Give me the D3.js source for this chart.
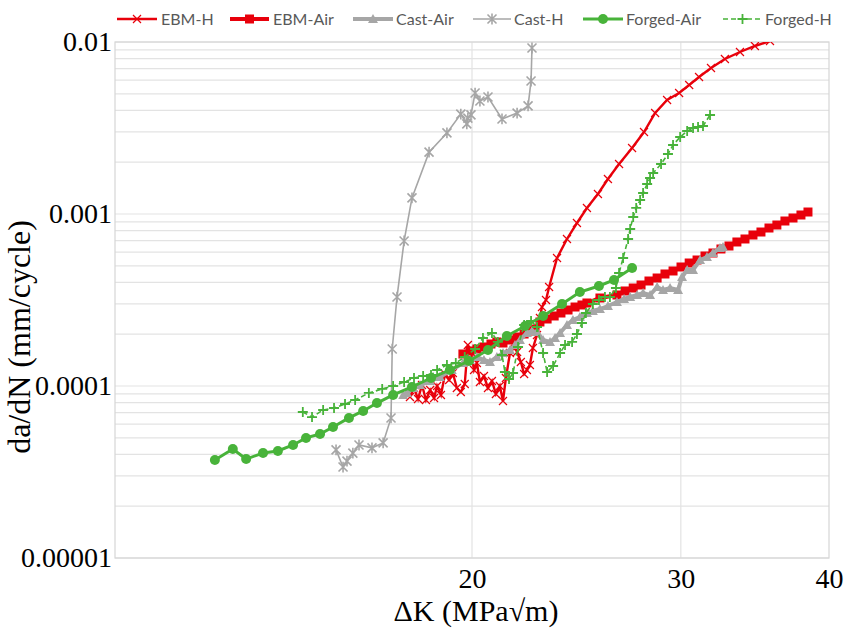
<!DOCTYPE html>
<html>
<head>
<meta charset="utf-8">
<script src="https://cdn.jsdelivr.net/npm/d3@7"></script>
<style>
  body { margin: 0; background: #fff; }
  svg { display: block; }
</style>
</head>
<body>
<div id="chart"></div>
<script>
// series data: [deltaK (MPa√m), da/dN (mm/cycle)]
const ebmH = [
  [17.73,8.63e-5],[17.87,9.74e-5],[18.01,8.40e-5],[18.15,1.013e-4],[18.29,8.29e-5],[18.44,9.48e-5],
  [18.58,8.52e-5],[18.69,1.0e-4],[18.83,8.87e-5],[18.98,1.174e-4],[19.13,1.084e-4],[19.27,1.19e-4],
  [19.42,9.74e-5],[19.57,9.23e-5],[19.72,1.027e-4],[19.84,1.731e-4],[19.96,1.576e-4],[20.08,1.239e-4],
  [20.19,1.361e-4],[20.31,1.055e-4],[20.47,1.143e-4],[20.63,9.74e-5],[20.79,1.069e-4],[20.95,8.99e-5],
  [21.11,1.0e-4],[21.24,8.18e-5],[21.36,1.113e-4],[21.53,1.555e-4],[21.70,1.778e-4],[21.83,1.576e-4],
  [21.99,1.379e-4],[22.13,1.174e-4],[22.25,1.239e-4],[22.38,1.325e-4],[22.51,1.663e-4],[22.69,1.979e-4],
  [22.82,2.485e-4],[22.91,2.879e-4],[23.09,3.162e-4],[23.23,3.763e-4],[23.59,5.549e-4],[24.05,7.157e-4],
  [24.52,8.866e-4],[25.00,1.084e-3],[25.54,1.307e-3],[26.04,1.597e-3],[26.61,1.953e-3],[27.29,2.419e-3],
  [27.93,2.997e-3],[28.54,3.866e-3],[29.21,4.601e-3],[29.90,5.052e-3],[30.49,5.623e-3],[31.08,6.26e-3],
  [31.81,7.063e-3],[32.68,7.964e-3],[33.65,8.747e-3],[34.64,9.479e-3],[35.67,1.013e-2]
];
const ebmAir = [
  [19.65,1.535e-4],[19.92,1.597e-4],[20.19,1.641e-4],[20.47,1.686e-4],[20.75,1.755e-4],[20.99,1.803e-4],
  [21.24,1.778e-4],[21.53,1.851e-4],[21.83,1.927e-4],[22.13,2.006e-4],[22.38,2.088e-4],[22.60,2.145e-4],
  [22.82,2.356e-4],[23.14,2.452e-4],[23.46,2.553e-4],[23.77,2.657e-4],[24.10,2.766e-4],[24.43,2.879e-4],
  [24.76,2.958e-4],[25.00,3.038e-4],[25.64,3.248e-4],[26.50,3.381e-4],[26.92,3.568e-4],[27.35,3.713e-4],
  [27.77,3.866e-4],[28.20,4.078e-4],[28.65,4.245e-4],[29.09,4.479e-4],[29.55,4.663e-4],[30.01,4.919e-4],
  [30.49,5.189e-4],[30.96,5.402e-4],[31.44,5.70e-4],[31.93,5.933e-4],[32.43,6.26e-4],[32.94,6.516e-4],
  [33.45,6.875e-4],[33.98,7.157e-4],[34.51,7.548e-4],[35.05,7.858e-4],[35.60,8.29e-4],[36.15,8.63e-4],
  [36.72,9.105e-4],[37.30,9.479e-4],[37.88,9.867e-4],[38.40,1.027e-3]
];
const castAir = [
  [17.50,8.87e-5],[17.63,9.11e-5],[17.84,9.74e-5],[18.08,1.013e-4],[18.44,1.069e-4],[18.79,1.128e-4],
  [19.23,1.239e-4],[19.65,1.361e-4],[19.92,1.416e-4],[20.19,1.474e-4],[20.47,1.416e-4],[20.71,1.379e-4],
  [20.99,1.474e-4],[21.24,1.555e-4],[21.53,1.619e-4],[21.74,1.731e-4],[21.95,1.851e-4],[22.25,2.033e-4],
  [22.47,2.088e-4],[22.69,2.061e-4],[22.96,1.851e-4],[23.27,1.803e-4],[23.50,1.901e-4],[23.73,2.033e-4],
  [24.05,2.263e-4],[24.33,2.419e-4],[24.66,2.518e-4],[25.00,2.657e-4],[25.29,2.729e-4],[25.64,2.803e-4],
  [26.04,2.918e-4],[26.50,3.078e-4],[26.87,3.205e-4],[27.19,3.292e-4],[27.56,3.381e-4],[27.88,3.473e-4],
  [28.26,3.381e-4],[28.65,3.763e-4],[28.98,3.615e-4],[29.38,3.713e-4],[29.84,3.615e-4],[30.07,4.302e-4],
  [30.37,4.726e-4],[30.72,4.726e-4],[31.14,5.402e-4],[31.56,5.623e-4],[31.93,5.933e-4],[32.37,6.344e-4],
  [32.56,6.43e-4]
];
const castH = [
  [15.36,4.25e-5],[15.57,3.38e-5],[15.69,3.66e-5],[15.87,4.07e-5],[16.06,4.54e-5],[16.47,4.37e-5],
  [16.83,4.67e-5],[17.09,6.52e-5],[17.13,1.64e-4],[17.29,3.29e-4],[17.53,6.97e-4],[17.80,1.24e-3],
  [18.40,2.29e-3],[19.05,2.96e-3],[19.57,3.81e-3],[19.80,3.34e-3],[19.84,3.61e-3],[19.96,3.77e-3],
  [20.12,5.05e-3],[20.31,4.54e-3],[20.63,4.79e-3],[21.20,3.57e-3],[21.83,3.86e-3],[22.30,4.25e-3],
  [22.43,5.93e-3],[22.47,9.23e-3]
];
const forgedAir = [
  [12.14,3.71e-5],[12.57,4.30e-5],[12.90,3.76e-5],[13.33,4.08e-5],[13.72,4.19e-5],[14.13,4.54e-5],
  [14.49,4.99e-5],[14.89,5.26e-5],[15.27,5.78e-5],[15.75,6.52e-5],[16.19,7.16e-5],[16.63,7.96e-5],
  [17.16,8.87e-5],[17.80,9.87e-5],[18.47,1.113e-4],[19.16,1.239e-4],[19.88,1.398e-4],[20.63,1.619e-4],
  [21.40,1.953e-4],[22.17,2.233e-4],[22.96,2.553e-4],[23.82,2.997e-4],[24.66,3.52e-4],[25.59,3.814e-4],
  [26.35,4.134e-4],[27.29,4.853e-4]
];
const forgedH = [
  [14.40,7.06e-5],[14.66,6.60e-5],[14.98,7.25e-5],[15.30,7.45e-5],[15.63,7.86e-5],[15.94,8.29e-5],
  [16.37,9.11e-5],[16.80,9.61e-5],[17.16,1.0e-4],[17.53,1.055e-4],[17.87,1.113e-4],[18.19,1.143e-4],
  [18.47,1.159e-4],[18.69,1.239e-4],[19.05,1.325e-4],[19.38,1.361e-4],[19.72,1.474e-4],[20.12,1.641e-4],
  [20.43,1.901e-4],[20.79,2.033e-4],[21.03,1.803e-4],[21.20,1.514e-4],[21.32,1.206e-4],[21.49,1.098e-4],
  [21.66,1.19e-4],[21.87,1.686e-4],[22.13,2.263e-4],[22.43,2.388e-4],[22.69,2.203e-4],[22.96,1.555e-4],
  [23.14,1.206e-4],[23.41,1.307e-4],[23.73,1.555e-4],[23.96,1.731e-4],[24.29,1.803e-4],[24.52,2.006e-4],
  [24.76,2.324e-4],[24.95,2.657e-4],[25.29,2.997e-4],[25.59,3.162e-4],[25.89,3.292e-4],[26.14,3.292e-4],
  [26.45,3.713e-4],[26.61,4.54e-4],[26.82,5.549e-4],[27.08,7.157e-4],[27.19,8.181e-4],[27.35,9.607e-4],
  [27.51,1.084e-3],[27.72,1.206e-3],[27.88,1.325e-3],[28.10,1.494e-3],[28.26,1.619e-3],[28.43,1.731e-3],
  [28.87,1.953e-3],[29.26,2.233e-3],[29.55,2.518e-3],[29.96,2.803e-3],[30.37,3.038e-3],[30.72,3.162e-3],
  [31.02,3.205e-3],[31.32,3.248e-3],[31.75,3.763e-3]
];

const xTicks = [20, 30, 40];
const yTicks = [1e-5, 1e-4, 1e-3, 1e-2];
const yTickLabels = ["0.00001", "0.0001", "0.001", "0.01"];
const seriesNames = ["EBM-H", "EBM-Air", "Cast-Air", "Cast-H", "Forged-Air", "Forged-H"];

const RED = "#e8000b", GRAY = "#a6a6a6", GREEN = "#48b33a";

const width = 845, height = 628;
const margin = { left: 115, right: 829, top: 42, bottom: 558 };

const svg = d3.select("#chart").append("svg")
  .attr("width", width).attr("height", height);

const x = d3.scaleLog().domain([10, 40]).range([margin.left, margin.right]);
const y = d3.scaleLog().domain([1e-5, 1e-2]).range([margin.bottom, margin.top]);

// horizontal gridlines at every 1..9 x decade
const gridY = [];
[-5, -4, -3].forEach(k => d3.range(1, 10).forEach(m => gridY.push(m * Math.pow(10, k))));
gridY.push(1e-2);

svg.append("g").selectAll("line").data(gridY).join("line")
  .attr("x1", margin.left).attr("x2", margin.right)
  .attr("y1", d => y(d)).attr("y2", d => y(d))
  .attr("stroke", "#e3e3e3").attr("stroke-width", 1.2);

svg.append("g").selectAll("line").data(xTicks.slice(0, 2)).join("line")
  .attr("x1", d => x(d)).attr("x2", d => x(d))
  .attr("y1", margin.top).attr("y2", margin.bottom)
  .attr("stroke", "#e3e3e3").attr("stroke-width", 1.2);

svg.append("rect")
  .attr("x", margin.left).attr("y", margin.top)
  .attr("width", margin.right - margin.left).attr("height", margin.bottom - margin.top)
  .attr("fill", "none").attr("stroke", "#d6d6d6").attr("stroke-width", 1.2);

// axes (labels only)
const serif = "'Liberation Serif', 'Times New Roman', serif";
const yAxis = svg.append("g")
  .attr("transform", `translate(${margin.left},0)`)
  .call(d3.axisLeft(y).tickValues(yTicks).tickSize(0)
    .tickFormat((d, i) => yTickLabels[i]));
yAxis.select(".domain").remove();
yAxis.selectAll("text")
  .attr("font-family", serif)
  .attr("font-size", 28).attr("fill", "#000");

const xAxis = svg.append("g")
  .attr("transform", `translate(0,${margin.bottom + 7})`)
  .call(d3.axisBottom(x).tickValues(xTicks).tickSize(0).tickFormat(d3.format("d")));
xAxis.select(".domain").remove();
xAxis.selectAll("text")
  .attr("font-family", serif)
  .attr("font-size", 28).attr("fill", "#000");

svg.append("text")
  .attr("x", 476).attr("y", 621)
  .attr("text-anchor", "middle")
  .attr("font-family", serif)
  .attr("font-size", 30)
  .text("ΔK (MPa√m)");

svg.append("text")
  .attr("transform", `translate(30,337)rotate(-90)`)
  .attr("text-anchor", "middle")
  .attr("font-family", serif)
  .attr("font-size", 32)
  .text("da/dN (mm/cycle)");

// clip
svg.append("clipPath").attr("id", "plot-clip")
  .append("rect").attr("x", margin.left).attr("y", margin.top)
  .attr("width", margin.right - margin.left).attr("height", margin.bottom - margin.top);

const plot = svg.append("g").attr("clip-path", "url(#plot-clip)");

const line = d3.line().x(d => x(d[0])).y(d => y(d[1]));

const markers = {
  xmark: s => `M${-s},${-s}L${s},${s}M${-s},${s}L${s},${-s}`,
  star: s => `M${-s},${-s}L${s},${s}M${-s},${s}L${s},${-s}M0,${-s * 1.2}V${s * 1.2}`,
  plus: s => `M${-s},0H${s}M0,${-s}V${s}`
};

const styles = [
  { data: ebmH, color: RED, lw: 2.4, dash: null, mark: "xmark", size: 4, mw: 1.2 },
  { data: ebmAir, color: RED, lw: 4, dash: null, mark: "square", size: 9 },
  { data: castAir, color: GRAY, lw: 4, dash: null, mark: "triangle", size: 10 },
  { data: castH, color: GRAY, lw: 1.6, dash: null, mark: "star", size: 4.5, mw: 1.6 },
  { data: forgedAir, color: GREEN, lw: 3, dash: null, mark: "circle", size: 5 },
  { data: forgedH, color: GREEN, lw: 1.6, dash: "5,3", mark: "plus", size: 5, mw: 1.8 }
];

function drawMarkers(g, pts, st) {
  const sel = g.selectAll(null).data(pts).join("path")
    .attr("transform", d => `translate(${d[0]},${d[1]})`);
  if (st.mark === "square") {
    sel.attr("d", `M${-st.size / 2},${-st.size / 2}h${st.size}v${st.size}h${-st.size}z`).attr("fill", st.color);
  } else if (st.mark === "triangle") {
    const s = st.size / 2;
    sel.attr("d", `M0,${-s}L${s},${s * 0.8}L${-s},${s * 0.8}z`).attr("fill", st.color);
  } else if (st.mark === "circle") {
    sel.attr("d", d3.symbol(d3.symbolCircle, Math.PI * st.size * st.size)()).attr("fill", st.color);
  } else {
    sel.attr("d", markers[st.mark](st.size)).attr("fill", "none")
      .attr("stroke", st.color).attr("stroke-width", st.mw);
  }
}

styles.forEach(st => {
  const g = plot.append("g");
  g.append("path").datum(st.data)
    .attr("fill", "none").attr("stroke", st.color)
    .attr("stroke-width", st.lw)
    .attr("stroke-dasharray", st.dash)
    .attr("d", line);
  drawMarkers(g, st.data.map(d => [x(d[0]), y(d[1])]), st);
});

// legend
const legendPos = [
  { x1: 117, x2: 157, tx: 161 },
  { x1: 230, x2: 269, tx: 273 },
  { x1: 353, x2: 393, tx: 396 },
  { x1: 473, x2: 511, tx: 514 },
  { x1: 583, x2: 623, tx: 626 },
  { x1: 723, x2: 762, tx: 765 }
];
const ly = 19;
const legend = svg.append("g");
seriesNames.forEach((name, i) => {
  const st = styles[i], p = legendPos[i];
  const g = legend.append("g");
  g.append("line")
    .attr("x1", p.x1).attr("x2", p.x2).attr("y1", ly).attr("y2", ly)
    .attr("stroke", st.color).attr("stroke-width", st.lw)
    .attr("stroke-dasharray", st.dash);
  drawMarkers(g, [[(p.x1 + p.x2) / 2, ly]], st);
  g.append("text")
    .attr("x", p.tx).attr("y", ly).attr("dy", "0.35em")
    .attr("font-family", "Lato, 'Open Sans', sans-serif")
    .attr("font-size", 16).attr("fill", "#595959")
    .text(name);
});
</script>
</body>
</html>
